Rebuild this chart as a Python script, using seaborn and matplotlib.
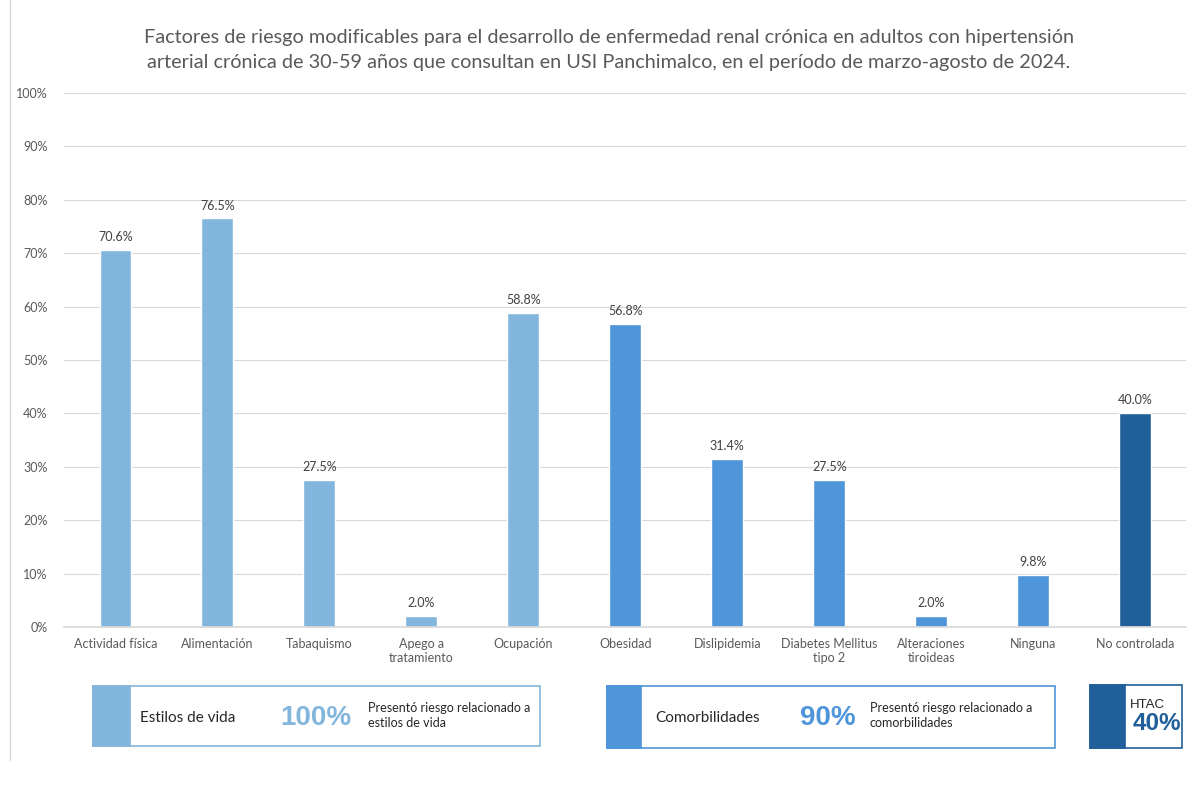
import matplotlib
matplotlib.use("Agg")
import matplotlib.pyplot as plt
import seaborn as sns
import pandas as pd
from matplotlib.patches import Rectangle
from matplotlib.lines import Line2D
from matplotlib.ticker import PercentFormatter
from matplotlib import font_manager

categories = ["Actividad física", "Alimentación", "Tabaquismo", "Apego a\ntratamiento",
              "Ocupación", "Obesidad", "Dislipidemia", "Diabetes Mellitus\ntipo 2",
              "Alteraciones\ntiroideas", "Ninguna", "No controlada"]
values = [70.6, 76.5, 27.5, 2.0, 58.8, 56.8, 31.4, 27.5, 2.0, 9.8, 40.0]
groups = ["Estilos de vida"] * 5 + ["Comorbilidades"] * 5 + ["HTAC"]
yticks = [0, 10, 20, 30, 40, 50, 60, 70, 80, 90, 100]

title = ("Factores de riesgo modificables para el desarrollo de enfermedad renal crónica en adultos con hipertensión\n"
         "arterial crónica de 30-59 años que consultan en USI Panchimalco, en el período de marzo-agosto de 2024.")

c_light = "#83B6DD"
c_mid = "#4E95D9"
c_dark = "#215F9A"
palette = {"Estilos de vida": c_light, "Comorbilidades": c_mid, "HTAC": c_dark}
gray = "#595959"

sns.set_theme(style="white")
plt.rcParams["font.family"] = ["Lato", "DejaVu Sans"]

installed = {f.name for f in font_manager.fontManager.ttflist}
narrow = "Liberation Sans Narrow" if "Liberation Sans Narrow" in installed else "Liberation Sans"
htac_size = 11 if narrow == "Liberation Sans Narrow" else 9.5

df = pd.DataFrame({"cat": categories, "val": values, "grp": groups})

fig = plt.figure(figsize=(11.91, 7.9), dpi=100)
ax = fig.add_axes([0.054, 0.2063, 0.942, 0.676])
sns.barplot(data=df, x="cat", y="val", hue="grp", palette=palette, dodge=False,
            width=0.31, legend=False, ax=ax, saturation=1)

ax.set_ylim(0, 100)
ax.set_yticks(yticks)
ax.yaxis.set_major_formatter(PercentFormatter(decimals=0))
ax.grid(axis="y", color="#D9D9D9", linewidth=0.8)
ax.set_axisbelow(True)
for s in ax.spines.values():
    s.set_visible(False)
ax.spines["bottom"].set_visible(True)
ax.spines["bottom"].set_color("#D9D9D9")
ax.tick_params(axis="both", length=0, labelsize=9, colors=gray, pad=8)
ax.tick_params(axis="y", pad=12)
ax.set_xlabel("")
ax.set_ylabel("")

for cont in ax.containers:
    ax.bar_label(cont, fmt="%.1f%%", padding=5, fontsize=9, color="#404040")

fig.text(0.511, 1 - 50 / 790, title, ha="center", va="center", fontsize=14.3, color=gray, linespacing=1.55)

# left border line
fig.add_artist(Line2D([10 / 1191, 10 / 1191], [30 / 790, 1.0], color="#D9D9D9", linewidth=1,
                      transform=fig.transFigure))

W, H = 1191, 790

def box(x0, x1, y0, y1, strip, color):
    fig.add_artist(Rectangle((x0 / W, 1 - y1 / H), (x1 - x0) / W, (y1 - y0) / H,
                             transform=fig.transFigure, facecolor="white", edgecolor=color, linewidth=1.2))
    fig.add_artist(Rectangle((x0 / W, 1 - y1 / H), strip / W, (y1 - y0) / H,
                             transform=fig.transFigure, facecolor=color, edgecolor=color, linewidth=1.2))

box(93, 540, 686, 746, 37, c_light)
box(607, 1055, 686, 748, 34, c_mid)
box(1090, 1182, 685, 748, 35, c_dark)

ym = 1 - 718 / H
fig.text(140 / W, ym, "Estilos de vida", fontsize=11, color="#262626", va="center", ha="left")
fig.text(316 / W, ym, "100%", fontsize=20, fontweight="bold", color=c_light, va="center", ha="center",
         family=["Liberation Sans", "DejaVu Sans"])
fig.text(368 / W, ym + 0.003, "Presentó riesgo relacionado a\nestilos de vida", fontsize=9, color="#262626",
         va="center", ha="left", linespacing=1.3)

fig.text(655 / W, ym, "Comorbilidades", fontsize=11, color="#262626", va="center", ha="left")
fig.text(828 / W, ym, "90%", fontsize=20, fontweight="bold", color=c_mid, va="center", ha="center",
         family=["Liberation Sans", "DejaVu Sans"])
fig.text(870 / W, ym + 0.003, "Presentó riesgo relacionado a\ncomorbilidades", fontsize=9, color="#262626",
         va="center", ha="left", linespacing=1.3)

fig.text(1147 / W, 1 - 705 / H, "HTAC", fontsize=htac_size, color="#262626", va="center", ha="center",
         family=[narrow, "DejaVu Sans"])
fig.text(1157 / W, 1 - 724 / H, "40%", fontsize=17.5, fontweight="bold", color=c_dark, va="center", ha="center",
         family=["Liberation Sans", "DejaVu Sans"])

fig.savefig("out.png", dpi=100, facecolor="white")
